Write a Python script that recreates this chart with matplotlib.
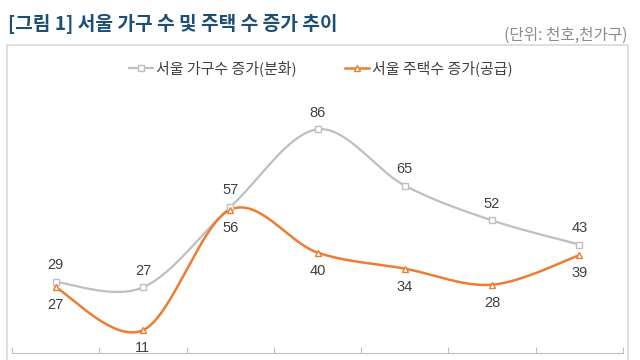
import numpy as np
import matplotlib
matplotlib.use("Agg")
import matplotlib.pyplot as plt
from matplotlib.patches import Rectangle

plt.rcParams['font.family'] = ['Noto Sans CJK KR', 'DejaVu Sans']

# data (thousand households / thousand houses)
households = [29, 27, 57, 86, 65, 52, 43]
houses = [27, 11, 56, 40, 34, 28, 39]
names = ['서울 가구수 증가(분화)', '서울 주택수 증가(공급)']
title = '[그림 1] 서울 가구 수 및 주택 수 증가 추이'
unit = '(단위: 천호,천가구)'

GREY = '#bfbfbf'
ORANGE = '#ed7d31'
TXT = '#404040'


def smooth(xs, ys, n=40):
    # excel-like smoothed line: cubic bezier with catmull-rom tangents
    xs = np.asarray(xs, float)
    ys = np.asarray(ys, float)
    px = np.concatenate([[xs[0]], xs, [xs[-1]]])
    py = np.concatenate([[ys[0]], ys, [ys[-1]]])
    ox, oy = [], []
    t = np.linspace(0, 1, n)
    for i in range(1, len(px) - 2):
        p0 = np.array([px[i], py[i]])
        p3 = np.array([px[i + 1], py[i + 1]])
        p1 = p0 + (np.array([px[i + 1], py[i + 1]]) - np.array([px[i - 1], py[i - 1]])) / 6
        p2 = p3 - (np.array([px[i + 2], py[i + 2]]) - np.array([px[i], py[i]])) / 6
        b = ((1 - t) ** 3)[:, None] * p0 + (3 * (1 - t) ** 2 * t)[:, None] * p1 \
            + (3 * (1 - t) * t ** 2)[:, None] * p2 + (t ** 3)[:, None] * p3
        ox.extend(b[:, 0])
        oy.extend(b[:, 1])
    return np.array(ox), np.array(oy)


fig = plt.figure(figsize=(6.4, 3.6), dpi=100)
W, H = 640, 360

fig.text(8 / W, 1 - 24 / H, title, fontsize=13.8, fontweight='bold',
         color='#1d4f76', ha='left', va='center')
fig.text(627 / W, 1 - 35 / H, unit, fontsize=11.3, color='#8c8c8c',
         ha='right', va='center')

# outer frame
fig.patches.append(Rectangle((7 / W, -0.1), 621 / W, 1.1 - 45 / H,
                             transform=fig.transFigure, fill=False,
                             edgecolor='#d9d9d9', linewidth=1.2))

ax = fig.add_axes([12 / W, 7 / H, 611 / W, 308 / H])
x = np.arange(len(households))

sx, sy = smooth(x, households)
ax.plot(sx, sy, color=GREY, lw=1.6, zorder=2)
ax.plot(x, households, ls='none', marker='s', ms=4, mfc='white', mec=GREY,
        mew=1, zorder=3)
sx, sy = smooth(x, houses)
ax.plot(sx, sy, color=ORANGE, lw=1.8, zorder=2)
ax.plot(x, houses, ls='none', marker='^', ms=4, mfc='white', mec=ORANGE,
        mew=1, zorder=3)

# legend proxies
ax.plot([], [], color=GREY, lw=1.6, marker='s', ms=4, mfc='white', mec=GREY,
        label=names[0])
ax.plot([], [], color=ORANGE, lw=1.8, marker='^', ms=4, mfc='white',
        mec=ORANGE, label=names[1])
h, l = ax.get_legend_handles_labels()
fig.legend(h, l, loc='center', bbox_to_anchor=(321 / W, 1 - 68 / H), ncol=2,
           frameon=False, fontsize=10.8, handlelength=1.6, handletextpad=0.2,
           columnspacing=3.2, labelcolor=TXT)

for i in x:
    ax.annotate(str(households[i]), (i, households[i]), xytext=(0, 12),
                textcoords='offset points', ha='center', va='center',
                fontsize=10.5, color=TXT, family='Liberation Sans')
    ax.annotate(str(houses[i]), (i, houses[i]), xytext=(0, -13),
                textcoords='offset points', ha='center', va='center',
                fontsize=10.5, color=TXT, family='Liberation Sans')

ax.set_xlim(-0.5, len(x) - 0.5)
ax.set_ylim(2.5, 117.5)
for s in ['top', 'left', 'right']:
    ax.spines[s].set_visible(False)
ax.spines['bottom'].set_color('#bfbfbf')
ax.set_yticks([])
ax.set_xticks(np.arange(len(x) + 1) - 0.5)
ax.tick_params(axis='x', direction='in', length=4, color='#bfbfbf',
               labelbottom=False)
ax.patch.set_visible(False)

fig.savefig('out.png', dpi=100)
